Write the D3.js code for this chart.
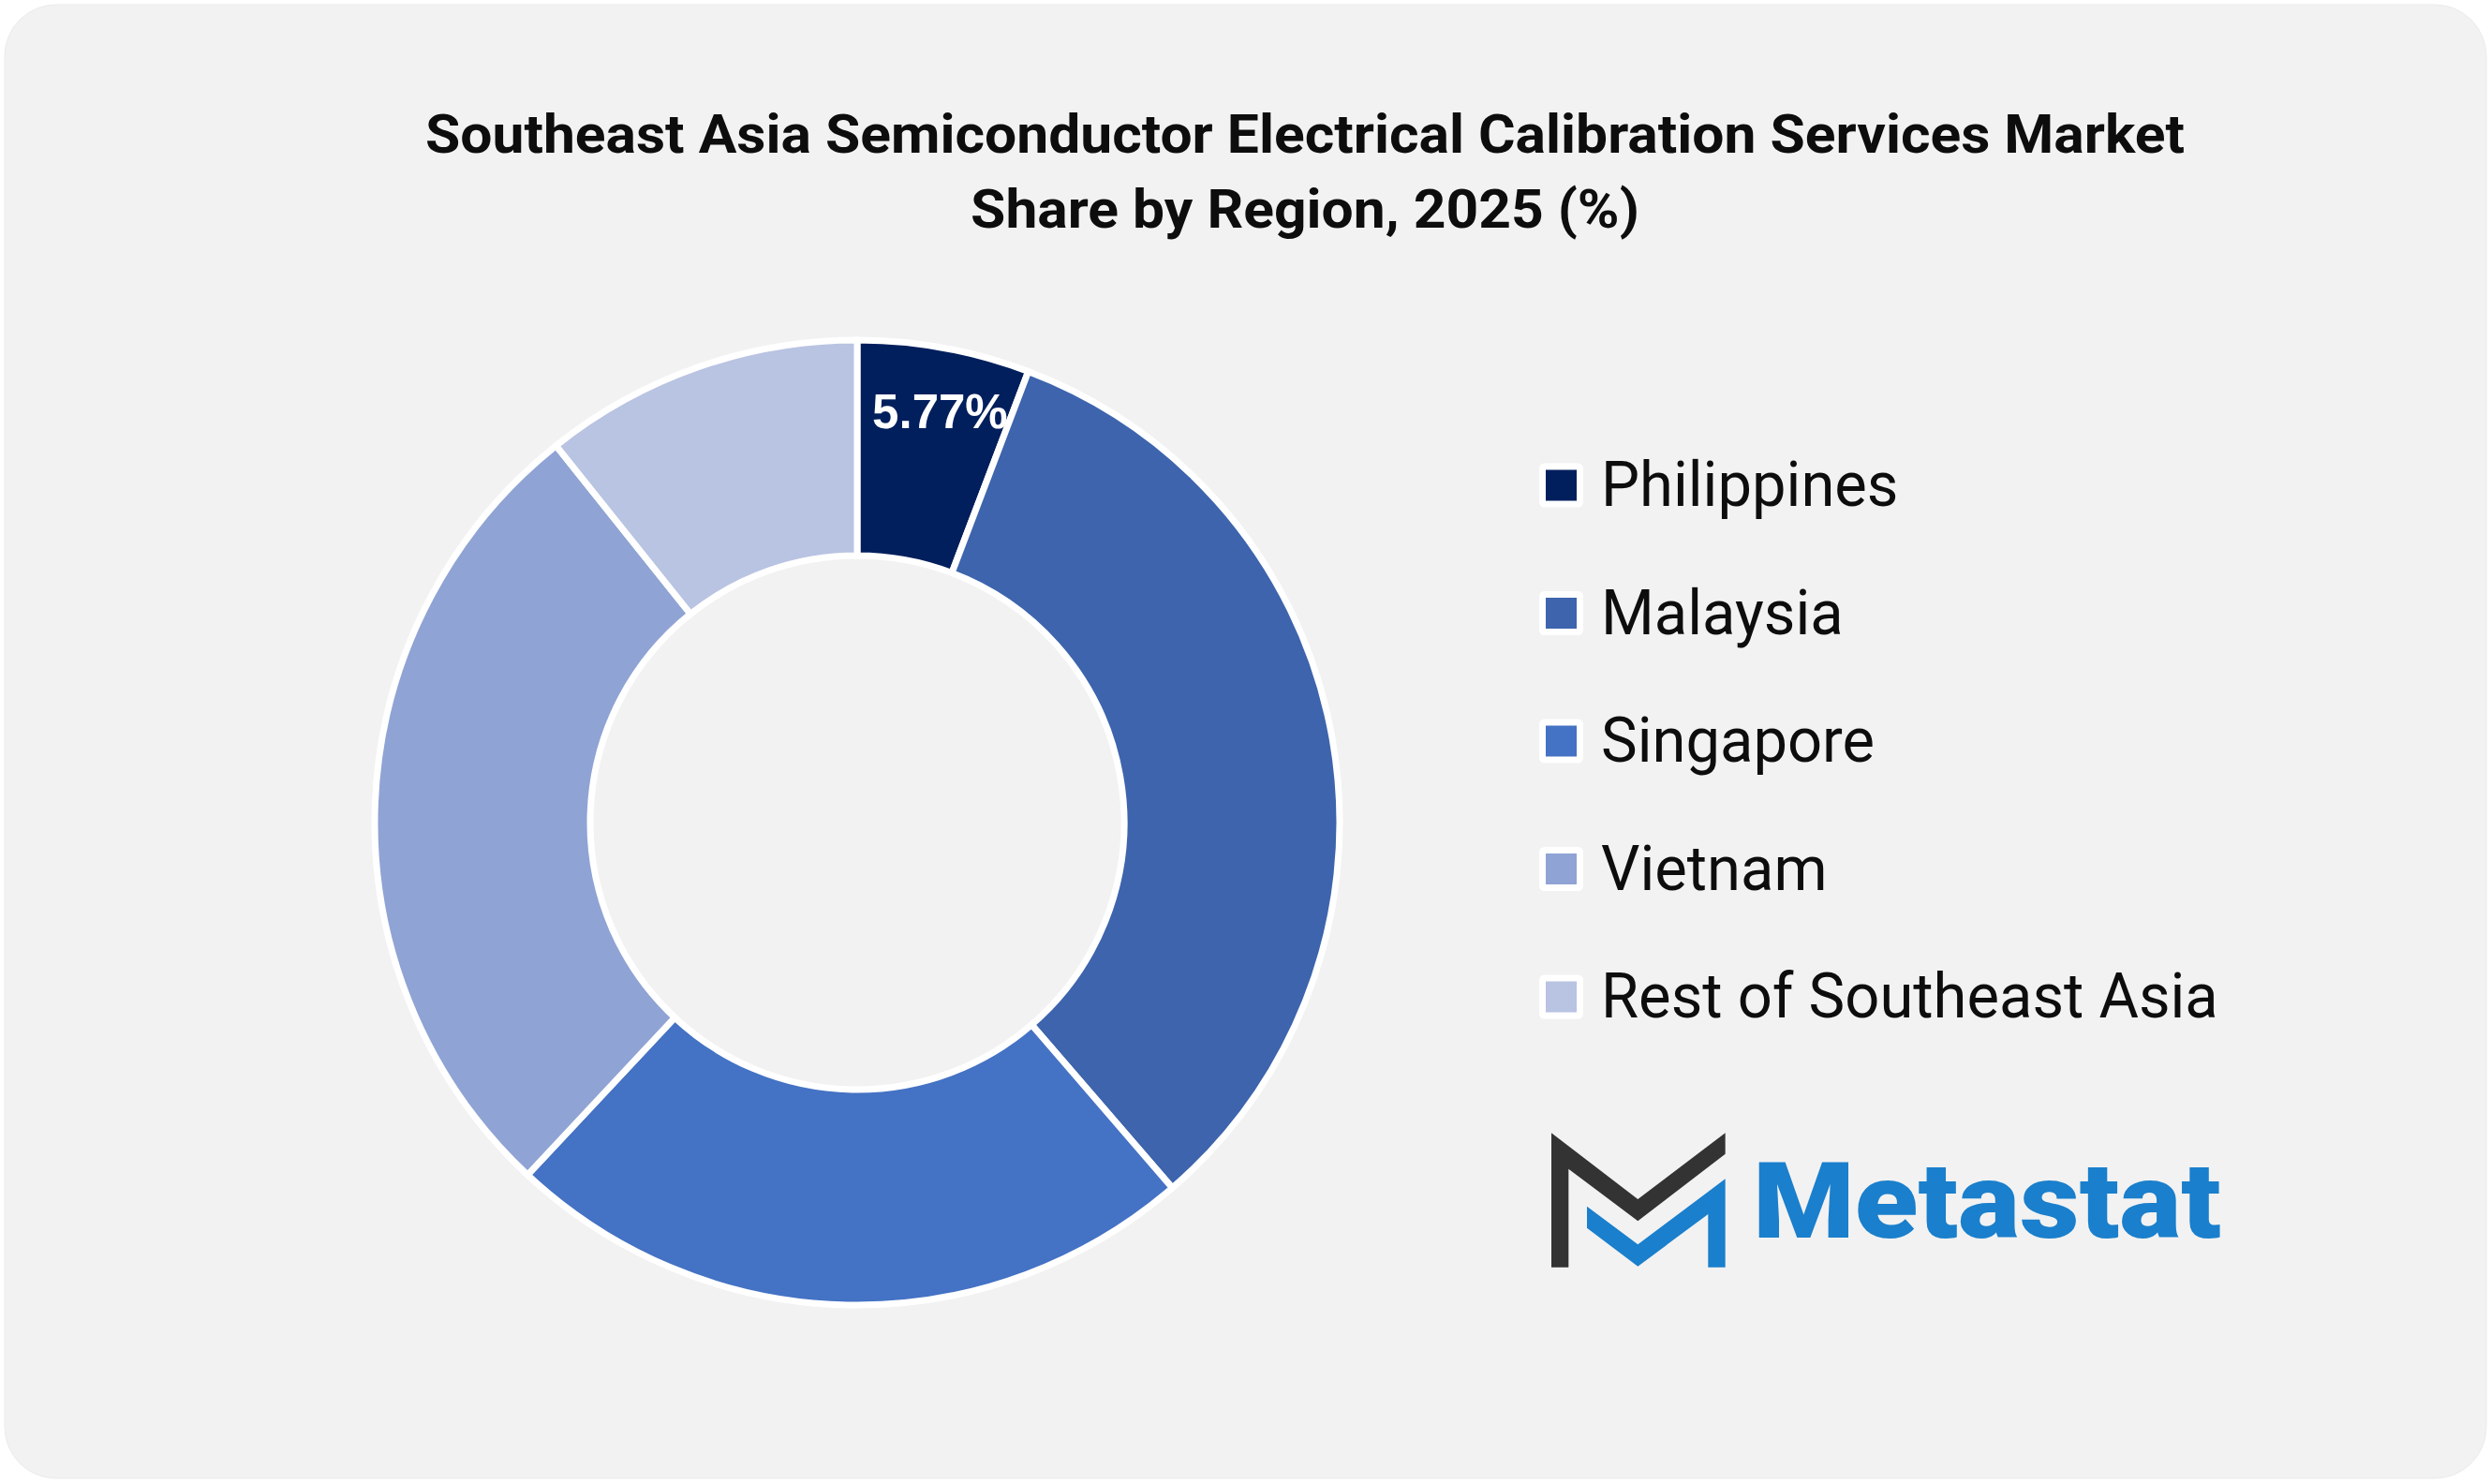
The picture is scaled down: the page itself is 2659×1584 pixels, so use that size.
<!DOCTYPE html>
<html>
<head>
<meta charset="utf-8">
<script src="https://cdn.jsdelivr.net/npm/d3@7"></script>
<style>
  html, body { margin: 0; padding: 0; background: #ffffff; }
  svg { display: block; }
</style>
</head>
<body>
<svg id="chart" width="2659" height="1584"></svg>
<script>
const titleLines = ["Southeast Asia Semiconductor Electrical Calibration Services Market", "Share by Region, 2025 (%)"];
const categories = ["Philippines", "Malaysia", "Singapore", "Vietnam", "Rest of Southeast Asia"];
const values = [5.77, 32.9, 23.3, 27.3, 10.73];
const colors = ["#001f5c", "#3d64ad", "#4472c4", "#8fa3d4", "#b9c3e2"];
const labelledSlices = ["Philippines"];

const W = 2659, H = 1584;
const svg = d3.select("#chart");

// card background
svg.append("rect").attr("x", 5).attr("y", 5).attr("width", W - 10).attr("height", H - 11)
  .attr("rx", 55).attr("ry", 55).attr("fill", "#f2f2f2").attr("stroke", "#ebebeb").attr("stroke-width", 1);

// title
const title = svg.append("g");
titleLines.forEach((t, i) => {
  title.append("text")
    .attr("x", 1393).attr("y", 163 + i * 80)
    .attr("text-anchor", "middle")
    .attr("font-family", "Roboto, 'Liberation Sans', sans-serif")
    .attr("font-weight", 700).attr("font-size", 58)
    .attr("fill", "#0d0d0d")
    .text(t);
});
{
  const t0 = title.select("text").node();
  const w = t0.getComputedTextLength();
  const s = 1878 / w;
  title.selectAll("text").each(function () {
    const el = d3.select(this);
    const x = +el.attr("x");
    el.attr("transform", `translate(${x},0) scale(${s},1) translate(${-x},0)`);
  });
}

// donut
const cx = 915, cy = 878;
const outerR = 515, innerR = 285;
const data = categories.map((c, i) => ({ name: c, value: values[i], color: colors[i] }));
const pie = d3.pie().value(d => d.value).sort(null);
const arcs = pie(data);
const arc = d3.arc().innerRadius(innerR).outerRadius(outerR);
const g = svg.append("g").attr("transform", `translate(${cx},${cy})`);
g.selectAll("path").data(arcs).join("path")
  .attr("d", arc)
  .attr("fill", d => d.data.color)
  .attr("stroke", "#ffffff").attr("stroke-width", 7).attr("stroke-linejoin", "miter");

const labelArc = d3.arc().innerRadius(446).outerRadius(446);
g.selectAll("text.lbl").data(arcs.filter(d => labelledSlices.includes(d.data.name))).join("text")
  .attr("class", "lbl")
  .attr("transform", d => { const [x, y] = labelArc.centroid(d); return `translate(${x + 8},${y})`; })
  .attr("text-anchor", "middle").attr("dominant-baseline", "central")
  .attr("font-family", "'Liberation Sans', Arial, sans-serif")
  .attr("font-weight", 700).attr("font-size", 51).attr("fill", "#ffffff")
  .text(d => d.data.value.toFixed(2) + "%");

// legend
const legend = svg.append("g");
const lx = 1666.5, ly0 = 518, lstep = 136.5;
const items = legend.selectAll("g").data(data).join("g")
  .attr("transform", (d, i) => `translate(0,${ly0 + i * lstep})`);
items.append("rect")
  .attr("x", lx - 20).attr("y", -20).attr("width", 40).attr("height", 40)
  .attr("rx", 2)
  .attr("fill", d => d.color).attr("stroke", "#ffffff").attr("stroke-width", 7).attr("stroke-linejoin", "round");
items.append("text")
  .attr("x", 1709).attr("y", 22)
  .attr("font-family", "Roboto, 'Liberation Sans', sans-serif")
  .attr("font-size", 66).attr("fill", "#0d0d0d")
  .text(d => d.name);
{
  const last = items.filter((d, i) => i === categories.length - 1).select("text").node();
  const w = last.getComputedTextLength();
  const s = 659 / w;
  items.selectAll("text").attr("transform", `translate(1709,0) scale(${s},1) translate(-1709,0)`);
}

// logo
const logo = svg.append("g").attr("transform", "translate(1620,1180) scale(0.3333)");
logo.append("polygon")
  .attr("points", "108,88 385,300 665,88 665,155 385,370 163,203 163,518 108,518")
  .attr("fill", "#333333");
logo.append("polygon")
  .attr("points", "222,323 385,445 665,235 665,518 610,518 610,348 385,515 222,392")
  .attr("fill", "#1a7fcc");
const logoText = svg.append("text")
  .attr("x", 1871).attr("y", 1321)
  .attr("font-family", "Roboto, 'DejaVu Sans', sans-serif")
  .attr("font-weight", 900).attr("font-size", 114)
  .attr("fill", "#1a7fcc")
  .text("Metastat");
{
  const w = logoText.node().getComputedTextLength();
  const s = 500 / w;
  logoText.attr("transform", `translate(1871,0) scale(${s},1) translate(-1871,0)`);
}
</script>
</body>
</html>
